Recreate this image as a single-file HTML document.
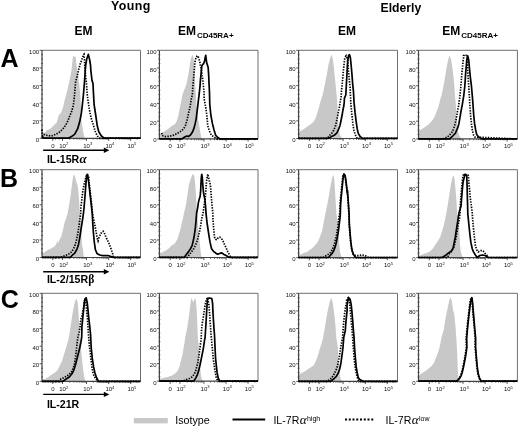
<!DOCTYPE html>
<html><head><meta charset="utf-8"><style>
html,body{margin:0;padding:0;background:#fff;}
body{width:520px;height:428px;overflow:hidden;}
svg{display:block;will-change:transform;filter:blur(0.3px);font-family:"Liberation Sans", sans-serif;}
</style></head><body>
<svg width="520" height="428" viewBox="0 0 520 428">
<rect width="520" height="428" fill="#fff"/>
<path d="M42 138.3 L42 136 L46.2 130.8 L50.4 128.7 L53.6 125.5 L56.7 122.4 L58.8 115 L60.9 112.9 L63 107.7 L64.6 100.3 L66.2 95 L69.3 81.5 L71.4 71 L72.5 60.5 L73 55.8 L74.3 57 L75.6 56.3 L76.7 65.8 L78.2 76.3 L79.5 86.8 L80.3 95 L80.8 104.5 L81.4 120.3 L83 130.8 L84.5 138.3 L84.5 138.3Z" fill="#c8c8c8"/>
<path d="M159.4 138.9 L159.4 135.49 L162.15 132.87 L165.3 130.76 L168.45 128.66 L171.61 126.04 L174.76 124.25 L176.86 121.1 L178.43 115.01 L179.48 109.76 L180.53 104.5 L181.58 99.25 L182.63 94 L186.31 84.66 L188.41 74.16 L189.99 63.66 L191.04 58.4 L192.09 55.25 L192.61 54.73 L193.66 58.4 L194.5 71.01 L194.92 81.51 L195.97 96.1 L196.29 104.5 L197.34 115.01 L198.92 123.41 L199.97 130.76 L201.02 136.02 L201.54 138.9 L201.54 138.9Z" fill="#c8c8c8"/>
<path d="M298.6 138.5 L298.6 132.03 L301.15 130.55 L304.3 128.87 L308.5 125.72 L311.66 123.62 L313.76 121.52 L315.33 118.68 L316.7 115.01 L317.96 110.81 L319.32 106.08 L320.58 101.35 L321.95 96.63 L322.68 94.96 L324.79 84.66 L326.89 74.16 L328.46 64.71 L330.04 58.4 L331.09 55.25 L331.61 54.73 L332.66 58.4 L333.71 65.76 L334.76 76.26 L335.82 86.76 L336.66 94.96 L337.39 104.5 L337.92 115.01 L338.44 125.51 L339.49 132.87 L340.54 136.02 L341.59 137.59 L342.64 138.5 L342.64 138.5Z" fill="#c8c8c8"/>
<path d="M418.5 138.9 L418.5 131.61 L420.1 130.24 L424.3 127.61 L428.5 124.46 L431.66 121.31 L433.76 118.16 L435.33 115.01 L436.91 110.81 L438.48 106.61 L439.53 102.4 L440.58 98.2 L441.63 94.96 L443.74 84.66 L445.52 74.16 L446.89 65.76 L448.25 59.45 L449.3 55.78 L449.72 55.78 L451.09 59.45 L452.14 65.76 L453.19 74.16 L454.24 84.66 L454.97 94.96 L455.82 104.5 L456.34 115.01 L457.08 125.51 L457.92 131.82 L459.18 135.49 L460.54 137.59 L461.59 138.9 L461.59 138.9Z" fill="#c8c8c8"/>
<path d="M42 257.5 L42 253.97 L45.15 251.87 L48.3 249.76 L51.45 248.19 L54.61 246.61 L56.5 243.46 L57.23 240.1 L57.97 243.67 L58.81 241.36 L59.86 239.26 L61.43 236.11 L63.01 229.81 L64.58 222.45 L66.16 218.25 L67.74 213 L69.31 203.66 L70.89 193.16 L71.94 184.76 L72.99 177.4 L73.72 174.78 L74.56 175.3 L75.61 178.45 L76.66 182.66 L77.71 185.81 L78.24 190.01 L78.76 196.31 L79.29 203.66 L79.82 213.96 L80.87 223.5 L81.39 234.01 L81.92 243.46 L82.97 249.76 L83.49 255.02 L84.02 257.5 L84.02 257.5Z" fill="#c8c8c8"/>
<path d="M159.4 257.5 L159.4 253.44 L162.15 252.39 L165.3 250.82 L168.45 248.71 L171.61 245.56 L174.76 243.46 L177.38 239.26 L178.96 234.01 L180.53 228.76 L181.58 223.5 L182.95 218.25 L184 213 L185.79 205.76 L187.36 195.26 L188.94 184.76 L190.51 179.5 L192.09 175.3 L193.14 174.25 L193.87 174.78 L194.71 178.45 L195.24 184.76 L195.76 192.11 L196.29 200.51 L196.82 208.92 L197.34 213.96 L197.87 223.5 L198.92 234.01 L199.97 244.51 L200.81 252.92 L201.54 257.12 L202.07 257.5 L202.07 257.5Z" fill="#c8c8c8"/>
<path d="M298.6 257.6 L298.6 255.02 L301.15 254.49 L304.3 252.39 L306.4 252.39 L308.5 250.82 L311.66 248.71 L314.81 245.56 L317.43 242.41 L319.01 239.26 L320.58 235.06 L322.16 230.86 L323.21 225.61 L324.26 219.3 L325.52 213 L327.41 203.66 L328.99 195.26 L330.56 185.81 L331.82 179.5 L332.98 175.3 L333.5 175.3 L334.24 179.5 L334.76 186.86 L335.29 195.26 L335.82 203.66 L336.34 213.96 L337.92 223.5 L338.44 234.01 L339.18 244.51 L340.02 251.87 L341.07 256.07 L342.12 257.6 L342.12 257.6Z" fill="#c8c8c8"/>
<path d="M418.5 257.6 L418.5 256.07 L422.2 254.49 L426.4 252.92 L429.55 251.87 L432.71 248.71 L434.81 245.56 L436.91 242.41 L439.01 239.26 L440.58 236.11 L442.16 230.86 L443.74 225.61 L445.1 219.3 L446.36 213 L447.94 203.66 L449.51 193.16 L451.09 183.71 L452.14 178.45 L453.19 175.83 L453.71 175.83 L454.55 179.5 L455.29 186.86 L456.03 195.26 L456.66 203.66 L457.08 213.96 L458.97 223.5 L459.49 234.01 L460.02 244.51 L460.86 251.87 L462.12 256.07 L463.17 257.6 L463.17 257.6Z" fill="#c8c8c8"/>
<path d="M42 381.4 L42 379.54 L45.15 379.02 L48.3 376.92 L51.45 374.82 L54.61 372.71 L57.23 370.61 L58.81 367.46 L60.38 364.31 L61.96 361.16 L63.53 355.91 L65.11 350.66 L66.68 345.4 L68.26 340.15 L68.79 337.96 L70.36 327.66 L71.94 317.16 L72.99 310.86 L74.04 305.61 L75.09 301.4 L76.14 298.78 L76.66 298.78 L77.71 302.45 L78.24 308.76 L78.76 317.16 L79.29 327.66 L79.82 337.96 L80.87 347.5 L81.92 358.01 L82.97 368.51 L84.02 375.87 L84.86 380.07 L85.59 381.4 L85.59 381.4Z" fill="#c8c8c8"/>
<path d="M159.4 381.2 L159.4 379.02 L163.2 377.97 L167.4 376.92 L171.61 375.87 L174.76 373.76 L177.91 370.61 L179.48 366.41 L181.06 360.11 L182.63 353.81 L183.68 347.5 L184.74 341.2 L185.26 337 L186.84 329.76 L188.41 320.31 L189.46 311.91 L190.51 303.5 L191.35 297.73 L192.4 300.35 L193.45 302.45 L194.19 300.35 L195.24 297.73 L195.97 301.4 L196.61 308.76 L197.03 317.16 L197.45 327.66 L197.87 337.96 L198.92 347.5 L199.44 358.01 L200.18 368.51 L201.02 375.87 L202.07 380.07 L203.12 381.2 L203.12 381.2Z" fill="#c8c8c8"/>
<path d="M298.6 381.4 L298.6 374.82 L301.15 373.24 L304.3 371.66 L307.45 369.56 L310.61 367.46 L313.76 365.36 L315.86 361.16 L317.43 356.96 L319.01 351.71 L320.58 346.45 L322.16 341.2 L323.21 337 L324.79 327.66 L326.36 318.21 L327.94 309.81 L329.51 302.45 L331.09 297.73 L332.66 302.45 L333.71 309.81 L334.76 318.21 L335.61 327.66 L336.34 337.96 L337.92 347.5 L338.44 358.01 L338.97 368.51 L339.81 375.87 L340.86 379.54 L342.12 380.91 L342.64 381.4 L342.64 381.4Z" fill="#c8c8c8"/>
<path d="M418.5 381.3 L418.5 375.87 L421.15 373.76 L424.3 371.66 L427.45 369.56 L430.61 366.94 L433.76 363.26 L435.86 358.01 L437.96 352.76 L439.53 347.5 L440.58 342.25 L441.63 337 L443.74 329.76 L445.1 321.36 L446.36 314.01 L447.94 306.66 L449.3 300.35 L450.35 297.2 L451.61 300.35 L452.45 305.61 L453.19 310.86 L454.24 314.01 L454.76 319.26 L455.61 327.66 L456.34 337.96 L456.87 347.5 L457.39 358.01 L457.71 368.51 L458.13 375.87 L458.97 379.02 L460.02 380.59 L461.07 381.3 L461.07 381.3Z" fill="#c8c8c8"/>
<path d="M42 50.3 H140.5 V138.3" fill="none" stroke="#6e6e6e" stroke-width="1"/>
<path d="M42 50.3 V138.3 H140.5" fill="none" stroke="#444" stroke-width="1.2"/>
<path d="M39.6 138.3H42M41.1 133.9H42.9M41.1 129.5H42.9M41.1 125.1H42.9M39.6 120.7H42M41.1 116.3H42.9M41.1 111.9H42.9M41.1 107.5H42.9M39.6 103.1H42M41.1 98.7H42.9M41.1 94.3H42.9M41.1 89.9H42.9M39.6 85.5H42M41.1 81.1H42.9M41.1 76.7H42.9M41.1 72.3H42.9M39.6 67.9H42M41.1 63.5H42.9M41.1 59.1H42.9M41.1 54.7H42.9M39.6 50.3H42M52.8 138.3V140.9M62.5 138.3V140.9M86.5 138.3V140.9M108.7 138.3V140.9M130.7 138.3V140.9M69.72 138.3V139.6M73.95 138.3V139.6M76.95 138.3V139.6M79.28 138.3V139.6M81.18 138.3V139.6M82.78 138.3V139.6M84.17 138.3V139.6M85.4 138.3V139.6M93.18 138.3V139.6M97.09 138.3V139.6M99.87 138.3V139.6M102.02 138.3V139.6M103.77 138.3V139.6M105.26 138.3V139.6M106.55 138.3V139.6M107.68 138.3V139.6M115.32 138.3V139.6M119.2 138.3V139.6M121.95 138.3V139.6M124.08 138.3V139.6M125.82 138.3V139.6M127.29 138.3V139.6M128.57 138.3V139.6M129.69 138.3V139.6M137.32 138.3V139.6M55.5 138.3V139.6M59 138.3V139.6" stroke="#444" stroke-width="0.9" fill="none"/>
<text x="39.1" y="141.8" text-anchor="end" font-size="6" fill="#111">0</text>
<text x="39.1" y="124.2" text-anchor="end" font-size="6" fill="#111">20</text>
<text x="39.1" y="106.6" text-anchor="end" font-size="6" fill="#111">40</text>
<text x="39.1" y="89" text-anchor="end" font-size="6" fill="#111">60</text>
<text x="39.1" y="71.4" text-anchor="end" font-size="6" fill="#111">80</text>
<text x="39.1" y="53.8" text-anchor="end" font-size="6" fill="#111">100</text>
<text x="52.8" y="147.55" text-anchor="middle" font-size="6" fill="#111">0</text>
<text x="59.2" y="147.55" font-size="6" fill="#111">10<tspan dy="-2.4" font-size="4.1">2</tspan></text>
<text x="83.2" y="147.55" font-size="6" fill="#111">10<tspan dy="-2.4" font-size="4.1">3</tspan></text>
<text x="105.4" y="147.55" font-size="6" fill="#111">10<tspan dy="-2.4" font-size="4.1">4</tspan></text>
<text x="127.4" y="147.55" font-size="6" fill="#111">10<tspan dy="-2.4" font-size="4.1">5</tspan></text>
<path d="M159.4 50.3 H258 V138.9" fill="none" stroke="#6e6e6e" stroke-width="1"/>
<path d="M159.4 50.3 V138.9 H258" fill="none" stroke="#444" stroke-width="1.2"/>
<path d="M157 138.9H159.4M158.5 134.47H160.3M158.5 130.04H160.3M158.5 125.61H160.3M157 121.18H159.4M158.5 116.75H160.3M158.5 112.32H160.3M158.5 107.89H160.3M157 103.46H159.4M158.5 99.03H160.3M158.5 94.6H160.3M158.5 90.17H160.3M157 85.74H159.4M158.5 81.31H160.3M158.5 76.88H160.3M158.5 72.45H160.3M157 68.02H159.4M158.5 63.59H160.3M158.5 59.16H160.3M158.5 54.73H160.3M157 50.3H159.4M170.2 138.9V141.5M179.9 138.9V141.5M203.9 138.9V141.5M226.1 138.9V141.5M248.1 138.9V141.5M187.12 138.9V140.2M191.35 138.9V140.2M194.35 138.9V140.2M196.68 138.9V140.2M198.58 138.9V140.2M200.18 138.9V140.2M201.57 138.9V140.2M202.8 138.9V140.2M210.58 138.9V140.2M214.49 138.9V140.2M217.27 138.9V140.2M219.42 138.9V140.2M221.17 138.9V140.2M222.66 138.9V140.2M223.95 138.9V140.2M225.08 138.9V140.2M232.72 138.9V140.2M236.6 138.9V140.2M239.35 138.9V140.2M241.48 138.9V140.2M243.22 138.9V140.2M244.69 138.9V140.2M245.97 138.9V140.2M247.09 138.9V140.2M254.72 138.9V140.2M172.9 138.9V140.2M176.4 138.9V140.2" stroke="#444" stroke-width="0.9" fill="none"/>
<text x="156.5" y="142.4" text-anchor="end" font-size="6" fill="#111">0</text>
<text x="156.5" y="124.68" text-anchor="end" font-size="6" fill="#111">20</text>
<text x="156.5" y="106.96" text-anchor="end" font-size="6" fill="#111">40</text>
<text x="156.5" y="89.24" text-anchor="end" font-size="6" fill="#111">60</text>
<text x="156.5" y="71.52" text-anchor="end" font-size="6" fill="#111">80</text>
<text x="156.5" y="53.8" text-anchor="end" font-size="6" fill="#111">100</text>
<text x="170.2" y="148.15" text-anchor="middle" font-size="6" fill="#111">0</text>
<text x="176.6" y="148.15" font-size="6" fill="#111">10<tspan dy="-2.4" font-size="4.1">2</tspan></text>
<text x="200.6" y="148.15" font-size="6" fill="#111">10<tspan dy="-2.4" font-size="4.1">3</tspan></text>
<text x="222.8" y="148.15" font-size="6" fill="#111">10<tspan dy="-2.4" font-size="4.1">4</tspan></text>
<text x="244.8" y="148.15" font-size="6" fill="#111">10<tspan dy="-2.4" font-size="4.1">5</tspan></text>
<path d="M298.6 50.3 H397.5 V138.5" fill="none" stroke="#6e6e6e" stroke-width="1"/>
<path d="M298.6 50.3 V138.5 H397.5" fill="none" stroke="#444" stroke-width="1.2"/>
<path d="M296.2 138.5H298.6M297.7 134.09H299.5M297.7 129.68H299.5M297.7 125.27H299.5M296.2 120.86H298.6M297.7 116.45H299.5M297.7 112.04H299.5M297.7 107.63H299.5M296.2 103.22H298.6M297.7 98.81H299.5M297.7 94.4H299.5M297.7 89.99H299.5M296.2 85.58H298.6M297.7 81.17H299.5M297.7 76.76H299.5M297.7 72.35H299.5M296.2 67.94H298.6M297.7 63.53H299.5M297.7 59.12H299.5M297.7 54.71H299.5M296.2 50.3H298.6M309.4 138.5V141.1M319.1 138.5V141.1M343.1 138.5V141.1M365.3 138.5V141.1M387.3 138.5V141.1M326.32 138.5V139.8M330.55 138.5V139.8M333.55 138.5V139.8M335.88 138.5V139.8M337.78 138.5V139.8M339.38 138.5V139.8M340.77 138.5V139.8M342 138.5V139.8M349.78 138.5V139.8M353.69 138.5V139.8M356.47 138.5V139.8M358.62 138.5V139.8M360.37 138.5V139.8M361.86 138.5V139.8M363.15 138.5V139.8M364.28 138.5V139.8M371.92 138.5V139.8M375.8 138.5V139.8M378.55 138.5V139.8M380.68 138.5V139.8M382.42 138.5V139.8M383.89 138.5V139.8M385.17 138.5V139.8M386.29 138.5V139.8M393.92 138.5V139.8M312.1 138.5V139.8M315.6 138.5V139.8" stroke="#444" stroke-width="0.9" fill="none"/>
<text x="295.7" y="142" text-anchor="end" font-size="6" fill="#111">0</text>
<text x="295.7" y="124.36" text-anchor="end" font-size="6" fill="#111">20</text>
<text x="295.7" y="106.72" text-anchor="end" font-size="6" fill="#111">40</text>
<text x="295.7" y="89.08" text-anchor="end" font-size="6" fill="#111">60</text>
<text x="295.7" y="71.44" text-anchor="end" font-size="6" fill="#111">80</text>
<text x="295.7" y="53.8" text-anchor="end" font-size="6" fill="#111">100</text>
<text x="309.4" y="147.75" text-anchor="middle" font-size="6" fill="#111">0</text>
<text x="315.8" y="147.75" font-size="6" fill="#111">10<tspan dy="-2.4" font-size="4.1">2</tspan></text>
<text x="339.8" y="147.75" font-size="6" fill="#111">10<tspan dy="-2.4" font-size="4.1">3</tspan></text>
<text x="362" y="147.75" font-size="6" fill="#111">10<tspan dy="-2.4" font-size="4.1">4</tspan></text>
<text x="384" y="147.75" font-size="6" fill="#111">10<tspan dy="-2.4" font-size="4.1">5</tspan></text>
<path d="M418.5 50.3 H517.4 V138.9" fill="none" stroke="#6e6e6e" stroke-width="1"/>
<path d="M418.5 50.3 V138.9 H517.4" fill="none" stroke="#444" stroke-width="1.2"/>
<path d="M416.1 138.9H418.5M417.6 134.47H419.4M417.6 130.04H419.4M417.6 125.61H419.4M416.1 121.18H418.5M417.6 116.75H419.4M417.6 112.32H419.4M417.6 107.89H419.4M416.1 103.46H418.5M417.6 99.03H419.4M417.6 94.6H419.4M417.6 90.17H419.4M416.1 85.74H418.5M417.6 81.31H419.4M417.6 76.88H419.4M417.6 72.45H419.4M416.1 68.02H418.5M417.6 63.59H419.4M417.6 59.16H419.4M417.6 54.73H419.4M416.1 50.3H418.5M429.3 138.9V141.5M439 138.9V141.5M463 138.9V141.5M485.2 138.9V141.5M507.2 138.9V141.5M446.22 138.9V140.2M450.45 138.9V140.2M453.45 138.9V140.2M455.78 138.9V140.2M457.68 138.9V140.2M459.28 138.9V140.2M460.67 138.9V140.2M461.9 138.9V140.2M469.68 138.9V140.2M473.59 138.9V140.2M476.37 138.9V140.2M478.52 138.9V140.2M480.27 138.9V140.2M481.76 138.9V140.2M483.05 138.9V140.2M484.18 138.9V140.2M491.82 138.9V140.2M495.7 138.9V140.2M498.45 138.9V140.2M500.58 138.9V140.2M502.32 138.9V140.2M503.79 138.9V140.2M505.07 138.9V140.2M506.19 138.9V140.2M513.82 138.9V140.2M432 138.9V140.2M435.5 138.9V140.2" stroke="#444" stroke-width="0.9" fill="none"/>
<text x="415.6" y="142.4" text-anchor="end" font-size="6" fill="#111">0</text>
<text x="415.6" y="124.68" text-anchor="end" font-size="6" fill="#111">20</text>
<text x="415.6" y="106.96" text-anchor="end" font-size="6" fill="#111">40</text>
<text x="415.6" y="89.24" text-anchor="end" font-size="6" fill="#111">60</text>
<text x="415.6" y="71.52" text-anchor="end" font-size="6" fill="#111">80</text>
<text x="415.6" y="53.8" text-anchor="end" font-size="6" fill="#111">100</text>
<text x="429.3" y="148.15" text-anchor="middle" font-size="6" fill="#111">0</text>
<text x="435.7" y="148.15" font-size="6" fill="#111">10<tspan dy="-2.4" font-size="4.1">2</tspan></text>
<text x="459.7" y="148.15" font-size="6" fill="#111">10<tspan dy="-2.4" font-size="4.1">3</tspan></text>
<text x="481.9" y="148.15" font-size="6" fill="#111">10<tspan dy="-2.4" font-size="4.1">4</tspan></text>
<text x="503.9" y="148.15" font-size="6" fill="#111">10<tspan dy="-2.4" font-size="4.1">5</tspan></text>
<path d="M42 169.7 H140.5 V257.5" fill="none" stroke="#6e6e6e" stroke-width="1"/>
<path d="M42 169.7 V257.5 H140.5" fill="none" stroke="#444" stroke-width="1.2"/>
<path d="M39.6 257.5H42M41.1 253.11H42.9M41.1 248.72H42.9M41.1 244.33H42.9M39.6 239.94H42M41.1 235.55H42.9M41.1 231.16H42.9M41.1 226.77H42.9M39.6 222.38H42M41.1 217.99H42.9M41.1 213.6H42.9M41.1 209.21H42.9M39.6 204.82H42M41.1 200.43H42.9M41.1 196.04H42.9M41.1 191.65H42.9M39.6 187.26H42M41.1 182.87H42.9M41.1 178.48H42.9M41.1 174.09H42.9M39.6 169.7H42M52.8 257.5V260.1M62.5 257.5V260.1M86.5 257.5V260.1M108.7 257.5V260.1M130.7 257.5V260.1M69.72 257.5V258.8M73.95 257.5V258.8M76.95 257.5V258.8M79.28 257.5V258.8M81.18 257.5V258.8M82.78 257.5V258.8M84.17 257.5V258.8M85.4 257.5V258.8M93.18 257.5V258.8M97.09 257.5V258.8M99.87 257.5V258.8M102.02 257.5V258.8M103.77 257.5V258.8M105.26 257.5V258.8M106.55 257.5V258.8M107.68 257.5V258.8M115.32 257.5V258.8M119.2 257.5V258.8M121.95 257.5V258.8M124.08 257.5V258.8M125.82 257.5V258.8M127.29 257.5V258.8M128.57 257.5V258.8M129.69 257.5V258.8M137.32 257.5V258.8M55.5 257.5V258.8M59 257.5V258.8" stroke="#444" stroke-width="0.9" fill="none"/>
<text x="39.1" y="261" text-anchor="end" font-size="6" fill="#111">0</text>
<text x="39.1" y="243.44" text-anchor="end" font-size="6" fill="#111">20</text>
<text x="39.1" y="225.88" text-anchor="end" font-size="6" fill="#111">40</text>
<text x="39.1" y="208.32" text-anchor="end" font-size="6" fill="#111">60</text>
<text x="39.1" y="190.76" text-anchor="end" font-size="6" fill="#111">80</text>
<text x="39.1" y="173.2" text-anchor="end" font-size="6" fill="#111">100</text>
<text x="52.8" y="266.95" text-anchor="middle" font-size="6" fill="#111">0</text>
<text x="59.2" y="266.95" font-size="6" fill="#111">10<tspan dy="-2.4" font-size="4.1">2</tspan></text>
<text x="83.2" y="266.95" font-size="6" fill="#111">10<tspan dy="-2.4" font-size="4.1">3</tspan></text>
<text x="105.4" y="266.95" font-size="6" fill="#111">10<tspan dy="-2.4" font-size="4.1">4</tspan></text>
<text x="127.4" y="266.95" font-size="6" fill="#111">10<tspan dy="-2.4" font-size="4.1">5</tspan></text>
<path d="M159.4 169.7 H258 V257.5" fill="none" stroke="#6e6e6e" stroke-width="1"/>
<path d="M159.4 169.7 V257.5 H258" fill="none" stroke="#444" stroke-width="1.2"/>
<path d="M157 257.5H159.4M158.5 253.11H160.3M158.5 248.72H160.3M158.5 244.33H160.3M157 239.94H159.4M158.5 235.55H160.3M158.5 231.16H160.3M158.5 226.77H160.3M157 222.38H159.4M158.5 217.99H160.3M158.5 213.6H160.3M158.5 209.21H160.3M157 204.82H159.4M158.5 200.43H160.3M158.5 196.04H160.3M158.5 191.65H160.3M157 187.26H159.4M158.5 182.87H160.3M158.5 178.48H160.3M158.5 174.09H160.3M157 169.7H159.4M170.2 257.5V260.1M179.9 257.5V260.1M203.9 257.5V260.1M226.1 257.5V260.1M248.1 257.5V260.1M187.12 257.5V258.8M191.35 257.5V258.8M194.35 257.5V258.8M196.68 257.5V258.8M198.58 257.5V258.8M200.18 257.5V258.8M201.57 257.5V258.8M202.8 257.5V258.8M210.58 257.5V258.8M214.49 257.5V258.8M217.27 257.5V258.8M219.42 257.5V258.8M221.17 257.5V258.8M222.66 257.5V258.8M223.95 257.5V258.8M225.08 257.5V258.8M232.72 257.5V258.8M236.6 257.5V258.8M239.35 257.5V258.8M241.48 257.5V258.8M243.22 257.5V258.8M244.69 257.5V258.8M245.97 257.5V258.8M247.09 257.5V258.8M254.72 257.5V258.8M172.9 257.5V258.8M176.4 257.5V258.8" stroke="#444" stroke-width="0.9" fill="none"/>
<text x="156.5" y="261" text-anchor="end" font-size="6" fill="#111">0</text>
<text x="156.5" y="243.44" text-anchor="end" font-size="6" fill="#111">20</text>
<text x="156.5" y="225.88" text-anchor="end" font-size="6" fill="#111">40</text>
<text x="156.5" y="208.32" text-anchor="end" font-size="6" fill="#111">60</text>
<text x="156.5" y="190.76" text-anchor="end" font-size="6" fill="#111">80</text>
<text x="156.5" y="173.2" text-anchor="end" font-size="6" fill="#111">100</text>
<text x="170.2" y="266.95" text-anchor="middle" font-size="6" fill="#111">0</text>
<text x="176.6" y="266.95" font-size="6" fill="#111">10<tspan dy="-2.4" font-size="4.1">2</tspan></text>
<text x="200.6" y="266.95" font-size="6" fill="#111">10<tspan dy="-2.4" font-size="4.1">3</tspan></text>
<text x="222.8" y="266.95" font-size="6" fill="#111">10<tspan dy="-2.4" font-size="4.1">4</tspan></text>
<text x="244.8" y="266.95" font-size="6" fill="#111">10<tspan dy="-2.4" font-size="4.1">5</tspan></text>
<path d="M298.6 169.7 H397.5 V257.6" fill="none" stroke="#6e6e6e" stroke-width="1"/>
<path d="M298.6 169.7 V257.6 H397.5" fill="none" stroke="#444" stroke-width="1.2"/>
<path d="M296.2 257.6H298.6M297.7 253.21H299.5M297.7 248.81H299.5M297.7 244.42H299.5M296.2 240.02H298.6M297.7 235.62H299.5M297.7 231.23H299.5M297.7 226.84H299.5M296.2 222.44H298.6M297.7 218.05H299.5M297.7 213.65H299.5M297.7 209.25H299.5M296.2 204.86H298.6M297.7 200.47H299.5M297.7 196.07H299.5M297.7 191.68H299.5M296.2 187.28H298.6M297.7 182.88H299.5M297.7 178.49H299.5M297.7 174.09H299.5M296.2 169.7H298.6M309.4 257.6V260.2M319.1 257.6V260.2M343.1 257.6V260.2M365.3 257.6V260.2M387.3 257.6V260.2M326.32 257.6V258.9M330.55 257.6V258.9M333.55 257.6V258.9M335.88 257.6V258.9M337.78 257.6V258.9M339.38 257.6V258.9M340.77 257.6V258.9M342 257.6V258.9M349.78 257.6V258.9M353.69 257.6V258.9M356.47 257.6V258.9M358.62 257.6V258.9M360.37 257.6V258.9M361.86 257.6V258.9M363.15 257.6V258.9M364.28 257.6V258.9M371.92 257.6V258.9M375.8 257.6V258.9M378.55 257.6V258.9M380.68 257.6V258.9M382.42 257.6V258.9M383.89 257.6V258.9M385.17 257.6V258.9M386.29 257.6V258.9M393.92 257.6V258.9M312.1 257.6V258.9M315.6 257.6V258.9" stroke="#444" stroke-width="0.9" fill="none"/>
<text x="295.7" y="261.1" text-anchor="end" font-size="6" fill="#111">0</text>
<text x="295.7" y="243.52" text-anchor="end" font-size="6" fill="#111">20</text>
<text x="295.7" y="225.94" text-anchor="end" font-size="6" fill="#111">40</text>
<text x="295.7" y="208.36" text-anchor="end" font-size="6" fill="#111">60</text>
<text x="295.7" y="190.78" text-anchor="end" font-size="6" fill="#111">80</text>
<text x="295.7" y="173.2" text-anchor="end" font-size="6" fill="#111">100</text>
<text x="309.4" y="267.05" text-anchor="middle" font-size="6" fill="#111">0</text>
<text x="315.8" y="267.05" font-size="6" fill="#111">10<tspan dy="-2.4" font-size="4.1">2</tspan></text>
<text x="339.8" y="267.05" font-size="6" fill="#111">10<tspan dy="-2.4" font-size="4.1">3</tspan></text>
<text x="362" y="267.05" font-size="6" fill="#111">10<tspan dy="-2.4" font-size="4.1">4</tspan></text>
<text x="384" y="267.05" font-size="6" fill="#111">10<tspan dy="-2.4" font-size="4.1">5</tspan></text>
<path d="M418.5 169.7 H517.4 V257.6" fill="none" stroke="#6e6e6e" stroke-width="1"/>
<path d="M418.5 169.7 V257.6 H517.4" fill="none" stroke="#444" stroke-width="1.2"/>
<path d="M416.1 257.6H418.5M417.6 253.21H419.4M417.6 248.81H419.4M417.6 244.42H419.4M416.1 240.02H418.5M417.6 235.62H419.4M417.6 231.23H419.4M417.6 226.84H419.4M416.1 222.44H418.5M417.6 218.05H419.4M417.6 213.65H419.4M417.6 209.25H419.4M416.1 204.86H418.5M417.6 200.47H419.4M417.6 196.07H419.4M417.6 191.68H419.4M416.1 187.28H418.5M417.6 182.88H419.4M417.6 178.49H419.4M417.6 174.09H419.4M416.1 169.7H418.5M429.3 257.6V260.2M439 257.6V260.2M463 257.6V260.2M485.2 257.6V260.2M507.2 257.6V260.2M446.22 257.6V258.9M450.45 257.6V258.9M453.45 257.6V258.9M455.78 257.6V258.9M457.68 257.6V258.9M459.28 257.6V258.9M460.67 257.6V258.9M461.9 257.6V258.9M469.68 257.6V258.9M473.59 257.6V258.9M476.37 257.6V258.9M478.52 257.6V258.9M480.27 257.6V258.9M481.76 257.6V258.9M483.05 257.6V258.9M484.18 257.6V258.9M491.82 257.6V258.9M495.7 257.6V258.9M498.45 257.6V258.9M500.58 257.6V258.9M502.32 257.6V258.9M503.79 257.6V258.9M505.07 257.6V258.9M506.19 257.6V258.9M513.82 257.6V258.9M432 257.6V258.9M435.5 257.6V258.9" stroke="#444" stroke-width="0.9" fill="none"/>
<text x="415.6" y="261.1" text-anchor="end" font-size="6" fill="#111">0</text>
<text x="415.6" y="243.52" text-anchor="end" font-size="6" fill="#111">20</text>
<text x="415.6" y="225.94" text-anchor="end" font-size="6" fill="#111">40</text>
<text x="415.6" y="208.36" text-anchor="end" font-size="6" fill="#111">60</text>
<text x="415.6" y="190.78" text-anchor="end" font-size="6" fill="#111">80</text>
<text x="415.6" y="173.2" text-anchor="end" font-size="6" fill="#111">100</text>
<text x="429.3" y="267.05" text-anchor="middle" font-size="6" fill="#111">0</text>
<text x="435.7" y="267.05" font-size="6" fill="#111">10<tspan dy="-2.4" font-size="4.1">2</tspan></text>
<text x="459.7" y="267.05" font-size="6" fill="#111">10<tspan dy="-2.4" font-size="4.1">3</tspan></text>
<text x="481.9" y="267.05" font-size="6" fill="#111">10<tspan dy="-2.4" font-size="4.1">4</tspan></text>
<text x="503.9" y="267.05" font-size="6" fill="#111">10<tspan dy="-2.4" font-size="4.1">5</tspan></text>
<path d="M42 293.3 H140.5 V381.4" fill="none" stroke="#6e6e6e" stroke-width="1"/>
<path d="M42 293.3 V381.4 H140.5" fill="none" stroke="#444" stroke-width="1.2"/>
<path d="M39.6 381.4H42M41.1 377H42.9M41.1 372.59H42.9M41.1 368.19H42.9M39.6 363.78H42M41.1 359.38H42.9M41.1 354.97H42.9M41.1 350.56H42.9M39.6 346.16H42M41.1 341.75H42.9M41.1 337.35H42.9M41.1 332.94H42.9M39.6 328.54H42M41.1 324.13H42.9M41.1 319.73H42.9M41.1 315.32H42.9M39.6 310.92H42M41.1 306.51H42.9M41.1 302.11H42.9M41.1 297.71H42.9M39.6 293.3H42M52.8 381.4V384M62.5 381.4V384M86.5 381.4V384M108.7 381.4V384M130.7 381.4V384M69.72 381.4V382.7M73.95 381.4V382.7M76.95 381.4V382.7M79.28 381.4V382.7M81.18 381.4V382.7M82.78 381.4V382.7M84.17 381.4V382.7M85.4 381.4V382.7M93.18 381.4V382.7M97.09 381.4V382.7M99.87 381.4V382.7M102.02 381.4V382.7M103.77 381.4V382.7M105.26 381.4V382.7M106.55 381.4V382.7M107.68 381.4V382.7M115.32 381.4V382.7M119.2 381.4V382.7M121.95 381.4V382.7M124.08 381.4V382.7M125.82 381.4V382.7M127.29 381.4V382.7M128.57 381.4V382.7M129.69 381.4V382.7M137.32 381.4V382.7M55.5 381.4V382.7M59 381.4V382.7" stroke="#444" stroke-width="0.9" fill="none"/>
<text x="39.1" y="384.9" text-anchor="end" font-size="6" fill="#111">0</text>
<text x="39.1" y="367.28" text-anchor="end" font-size="6" fill="#111">20</text>
<text x="39.1" y="349.66" text-anchor="end" font-size="6" fill="#111">40</text>
<text x="39.1" y="332.04" text-anchor="end" font-size="6" fill="#111">60</text>
<text x="39.1" y="314.42" text-anchor="end" font-size="6" fill="#111">80</text>
<text x="39.1" y="296.8" text-anchor="end" font-size="6" fill="#111">100</text>
<text x="52.8" y="391.05" text-anchor="middle" font-size="6" fill="#111">0</text>
<text x="59.2" y="391.05" font-size="6" fill="#111">10<tspan dy="-2.4" font-size="4.1">2</tspan></text>
<text x="83.2" y="391.05" font-size="6" fill="#111">10<tspan dy="-2.4" font-size="4.1">3</tspan></text>
<text x="105.4" y="391.05" font-size="6" fill="#111">10<tspan dy="-2.4" font-size="4.1">4</tspan></text>
<text x="127.4" y="391.05" font-size="6" fill="#111">10<tspan dy="-2.4" font-size="4.1">5</tspan></text>
<path d="M159.4 293.3 H258 V381.2" fill="none" stroke="#6e6e6e" stroke-width="1"/>
<path d="M159.4 293.3 V381.2 H258" fill="none" stroke="#444" stroke-width="1.2"/>
<path d="M157 381.2H159.4M158.5 376.81H160.3M158.5 372.41H160.3M158.5 368.01H160.3M157 363.62H159.4M158.5 359.23H160.3M158.5 354.83H160.3M158.5 350.44H160.3M157 346.04H159.4M158.5 341.64H160.3M158.5 337.25H160.3M158.5 332.86H160.3M157 328.46H159.4M158.5 324.06H160.3M158.5 319.67H160.3M158.5 315.27H160.3M157 310.88H159.4M158.5 306.49H160.3M158.5 302.09H160.3M158.5 297.7H160.3M157 293.3H159.4M170.2 381.2V383.8M179.9 381.2V383.8M203.9 381.2V383.8M226.1 381.2V383.8M248.1 381.2V383.8M187.12 381.2V382.5M191.35 381.2V382.5M194.35 381.2V382.5M196.68 381.2V382.5M198.58 381.2V382.5M200.18 381.2V382.5M201.57 381.2V382.5M202.8 381.2V382.5M210.58 381.2V382.5M214.49 381.2V382.5M217.27 381.2V382.5M219.42 381.2V382.5M221.17 381.2V382.5M222.66 381.2V382.5M223.95 381.2V382.5M225.08 381.2V382.5M232.72 381.2V382.5M236.6 381.2V382.5M239.35 381.2V382.5M241.48 381.2V382.5M243.22 381.2V382.5M244.69 381.2V382.5M245.97 381.2V382.5M247.09 381.2V382.5M254.72 381.2V382.5M172.9 381.2V382.5M176.4 381.2V382.5" stroke="#444" stroke-width="0.9" fill="none"/>
<text x="156.5" y="384.7" text-anchor="end" font-size="6" fill="#111">0</text>
<text x="156.5" y="367.12" text-anchor="end" font-size="6" fill="#111">20</text>
<text x="156.5" y="349.54" text-anchor="end" font-size="6" fill="#111">40</text>
<text x="156.5" y="331.96" text-anchor="end" font-size="6" fill="#111">60</text>
<text x="156.5" y="314.38" text-anchor="end" font-size="6" fill="#111">80</text>
<text x="156.5" y="296.8" text-anchor="end" font-size="6" fill="#111">100</text>
<text x="170.2" y="390.85" text-anchor="middle" font-size="6" fill="#111">0</text>
<text x="176.6" y="390.85" font-size="6" fill="#111">10<tspan dy="-2.4" font-size="4.1">2</tspan></text>
<text x="200.6" y="390.85" font-size="6" fill="#111">10<tspan dy="-2.4" font-size="4.1">3</tspan></text>
<text x="222.8" y="390.85" font-size="6" fill="#111">10<tspan dy="-2.4" font-size="4.1">4</tspan></text>
<text x="244.8" y="390.85" font-size="6" fill="#111">10<tspan dy="-2.4" font-size="4.1">5</tspan></text>
<path d="M298.6 293.3 H397.5 V381.4" fill="none" stroke="#6e6e6e" stroke-width="1"/>
<path d="M298.6 293.3 V381.4 H397.5" fill="none" stroke="#444" stroke-width="1.2"/>
<path d="M296.2 381.4H298.6M297.7 377H299.5M297.7 372.59H299.5M297.7 368.19H299.5M296.2 363.78H298.6M297.7 359.38H299.5M297.7 354.97H299.5M297.7 350.56H299.5M296.2 346.16H298.6M297.7 341.75H299.5M297.7 337.35H299.5M297.7 332.94H299.5M296.2 328.54H298.6M297.7 324.13H299.5M297.7 319.73H299.5M297.7 315.32H299.5M296.2 310.92H298.6M297.7 306.51H299.5M297.7 302.11H299.5M297.7 297.71H299.5M296.2 293.3H298.6M309.4 381.4V384M319.1 381.4V384M343.1 381.4V384M365.3 381.4V384M387.3 381.4V384M326.32 381.4V382.7M330.55 381.4V382.7M333.55 381.4V382.7M335.88 381.4V382.7M337.78 381.4V382.7M339.38 381.4V382.7M340.77 381.4V382.7M342 381.4V382.7M349.78 381.4V382.7M353.69 381.4V382.7M356.47 381.4V382.7M358.62 381.4V382.7M360.37 381.4V382.7M361.86 381.4V382.7M363.15 381.4V382.7M364.28 381.4V382.7M371.92 381.4V382.7M375.8 381.4V382.7M378.55 381.4V382.7M380.68 381.4V382.7M382.42 381.4V382.7M383.89 381.4V382.7M385.17 381.4V382.7M386.29 381.4V382.7M393.92 381.4V382.7M312.1 381.4V382.7M315.6 381.4V382.7" stroke="#444" stroke-width="0.9" fill="none"/>
<text x="295.7" y="384.9" text-anchor="end" font-size="6" fill="#111">0</text>
<text x="295.7" y="367.28" text-anchor="end" font-size="6" fill="#111">20</text>
<text x="295.7" y="349.66" text-anchor="end" font-size="6" fill="#111">40</text>
<text x="295.7" y="332.04" text-anchor="end" font-size="6" fill="#111">60</text>
<text x="295.7" y="314.42" text-anchor="end" font-size="6" fill="#111">80</text>
<text x="295.7" y="296.8" text-anchor="end" font-size="6" fill="#111">100</text>
<text x="309.4" y="391.05" text-anchor="middle" font-size="6" fill="#111">0</text>
<text x="315.8" y="391.05" font-size="6" fill="#111">10<tspan dy="-2.4" font-size="4.1">2</tspan></text>
<text x="339.8" y="391.05" font-size="6" fill="#111">10<tspan dy="-2.4" font-size="4.1">3</tspan></text>
<text x="362" y="391.05" font-size="6" fill="#111">10<tspan dy="-2.4" font-size="4.1">4</tspan></text>
<text x="384" y="391.05" font-size="6" fill="#111">10<tspan dy="-2.4" font-size="4.1">5</tspan></text>
<path d="M418.5 293.3 H517.4 V381.3" fill="none" stroke="#6e6e6e" stroke-width="1"/>
<path d="M418.5 293.3 V381.3 H517.4" fill="none" stroke="#444" stroke-width="1.2"/>
<path d="M416.1 381.3H418.5M417.6 376.9H419.4M417.6 372.5H419.4M417.6 368.1H419.4M416.1 363.7H418.5M417.6 359.3H419.4M417.6 354.9H419.4M417.6 350.5H419.4M416.1 346.1H418.5M417.6 341.7H419.4M417.6 337.3H419.4M417.6 332.9H419.4M416.1 328.5H418.5M417.6 324.1H419.4M417.6 319.7H419.4M417.6 315.3H419.4M416.1 310.9H418.5M417.6 306.5H419.4M417.6 302.1H419.4M417.6 297.7H419.4M416.1 293.3H418.5M429.3 381.3V383.9M439 381.3V383.9M463 381.3V383.9M485.2 381.3V383.9M507.2 381.3V383.9M446.22 381.3V382.6M450.45 381.3V382.6M453.45 381.3V382.6M455.78 381.3V382.6M457.68 381.3V382.6M459.28 381.3V382.6M460.67 381.3V382.6M461.9 381.3V382.6M469.68 381.3V382.6M473.59 381.3V382.6M476.37 381.3V382.6M478.52 381.3V382.6M480.27 381.3V382.6M481.76 381.3V382.6M483.05 381.3V382.6M484.18 381.3V382.6M491.82 381.3V382.6M495.7 381.3V382.6M498.45 381.3V382.6M500.58 381.3V382.6M502.32 381.3V382.6M503.79 381.3V382.6M505.07 381.3V382.6M506.19 381.3V382.6M513.82 381.3V382.6M432 381.3V382.6M435.5 381.3V382.6" stroke="#444" stroke-width="0.9" fill="none"/>
<text x="415.6" y="384.8" text-anchor="end" font-size="6" fill="#111">0</text>
<text x="415.6" y="367.2" text-anchor="end" font-size="6" fill="#111">20</text>
<text x="415.6" y="349.6" text-anchor="end" font-size="6" fill="#111">40</text>
<text x="415.6" y="332" text-anchor="end" font-size="6" fill="#111">60</text>
<text x="415.6" y="314.4" text-anchor="end" font-size="6" fill="#111">80</text>
<text x="415.6" y="296.8" text-anchor="end" font-size="6" fill="#111">100</text>
<text x="429.3" y="390.95" text-anchor="middle" font-size="6" fill="#111">0</text>
<text x="435.7" y="390.95" font-size="6" fill="#111">10<tspan dy="-2.4" font-size="4.1">2</tspan></text>
<text x="459.7" y="390.95" font-size="6" fill="#111">10<tspan dy="-2.4" font-size="4.1">3</tspan></text>
<text x="481.9" y="390.95" font-size="6" fill="#111">10<tspan dy="-2.4" font-size="4.1">4</tspan></text>
<text x="503.9" y="390.95" font-size="6" fill="#111">10<tspan dy="-2.4" font-size="4.1">5</tspan></text>
<path d="M42 136.5 L44 138.2 L68.3 138.2 L71.4 136.6 L74.6 134.4 L77.7 128.7 L79.8 121.3 L81.4 112.9 L82.4 104.5 L83.5 94 L84.5 81.5 L85.6 65.8 L86.6 59.5 L88.3 54.4 L89.6 59.5 L90.5 65 L90.9 71 L92 80.5 L93 83.6 L93.4 92 L94.1 104.5 L95.7 115 L97.2 125.5 L98.8 131.8 L101.4 136 L104.1 138.2 L140 138.2 L140.5 138.2" fill="none" stroke="#000" stroke-width="1.7" stroke-linejoin="round"/>
<path d="M42 129.7 L42.5 136 L44.1 134.4 L47.3 135.5 L51.5 136 L55.7 134.4 L59.9 131.8 L64.1 127.6 L67.2 122.4 L69.8 116 L71.9 110.8 L73.5 104.5 L74.6 94 L75.6 81.5 L77.2 76.3 L78.8 68.9 L80.3 63.7 L81.9 59.5 L83.5 54.7 L84 54.2 L84.5 60.5 L85.1 71 L85.7 76.3 L86.7 86.8 L87.3 95 L88.3 102.4 L89.4 109.8 L90.9 117.1 L92.5 122.4 L94.1 127.6 L95.7 132.9 L97.8 136.5 L100 138.2 L140 138.2 L140.5 138.2" fill="none" stroke="#000" stroke-width="1.7" stroke-dasharray="1.4 1.3"/>
<path d="M159.4 138.8 L182.11 138.8 L184.74 137.07 L186.84 136.02 L188.41 136.54 L190.51 134.97 L192.61 131.82 L194.19 127.61 L195.24 123.41 L196.29 118.16 L197.03 111.86 L197.66 106.61 L198.39 100.3 L198.92 96.1 L199.97 86.76 L200.49 79.41 L201.02 74.16 L201.54 68.91 L201.86 65.76 L202.59 64.71 L203.64 63.66 L204.69 60.5 L205.22 57.35 L205.74 55.25 L206.63 62.61 L207.68 65.76 L208.2 67.86 L208.73 76.26 L209.04 83.61 L209.46 92.02 L209.78 104.5 L210.83 115.01 L212.4 123.41 L213.98 129.71 L215.55 134.97 L217.13 137.07 L219.76 138.8 L235.51 138.8 L254 138.8 L258 138.8" fill="none" stroke="#000" stroke-width="1.7" stroke-linejoin="round"/>
<path d="M161.63 132.87 L162.15 135.49 L165.3 136.54 L169.5 136.23 L173.71 135.18 L176.86 133.6 L180.01 131.82 L182.11 130.24 L184.21 127.82 L185.79 124.67 L186.84 120.79 L187.89 116.27 L188.94 111.33 L189.99 107.66 L190.51 104.5 L191.04 100.3 L191.77 97.15 L192.4 94 L192.61 89.92 L193.14 83.61 L193.66 77.31 L194.19 71.01 L194.71 64.71 L195.24 60.5 L195.76 58.4 L196.29 56.83 L197.34 55.78 L198.08 56.3 L198.71 58.4 L199.44 60.5 L199.97 62.61 L200.28 64.71 L201.02 67.86 L201.54 71.01 L202.07 75.21 L202.59 78.36 L203.12 83.61 L203.64 87.82 L203.96 92.02 L204.17 99.25 L205.22 104.5 L206.06 109.76 L206.79 115.01 L207.32 120.26 L207.68 125.51 L209.25 130.76 L211.35 134.97 L213.98 137.07 L216.61 138.8 L254 138.8 L258 138.8" fill="none" stroke="#000" stroke-width="1.7" stroke-dasharray="1.4 1.3"/>
<path d="M298.6 138.4 L323.21 138.4 L328.46 138.4 L331.61 136.54 L334.76 134.97 L336.87 132.87 L338.44 129.71 L340.02 125.51 L341.07 120.26 L342.12 115.01 L342.96 109.76 L343.69 106.61 L344.22 102.4 L344.43 98.2 L345.79 94.96 L346.32 85.71 L346.84 76.26 L347.37 65.76 L347.73 60.5 L348.78 55.25 L349.51 54.73 L350.35 57.35 L351.19 65.76 L351.93 74.16 L352.66 83.61 L353.5 92.02 L354.03 102.4 L355.08 112.91 L356.13 121.31 L357.18 128.66 L358.23 133.39 L359.81 136.02 L362.43 138.4 L393 138.4 L397.5 138.4" fill="none" stroke="#000" stroke-width="1.7" stroke-linejoin="round"/>
<path d="M298.6 138.4 L325.31 138.4 L327.41 138.4 L329.51 135.49 L331.61 133.39 L333.71 130.24 L335.29 126.56 L336.34 122.36 L337.39 117.11 L338.44 111.86 L339.49 106.61 L340.33 101.35 L341.07 97.15 L341.59 89.92 L342.12 84.66 L342.64 79.41 L343.17 73.11 L343.69 67.86 L344.22 62.61 L344.74 58.4 L345.79 56.3 L346.53 55.25 L346.15 54.73 L347.73 60.5 L348.46 71.01 L349.3 79.41 L350.14 87.82 L350.35 94 L350.88 104.5 L351.93 115.01 L352.98 124.46 L354.03 130.76 L355.61 135.49 L357.18 138.4 L393 138.4 L397.5 138.4" fill="none" stroke="#000" stroke-width="1.7" stroke-dasharray="1.4 1.3"/>
<path d="M418.5 138.8 L446.36 138.8 L449.51 138.8 L452.66 136.02 L455.29 133.39 L457.39 128.66 L458.97 123.41 L460.02 117.11 L461.07 110.81 L462.12 105.55 L462.96 100.3 L463.69 96.1 L464.74 86.76 L465.27 79.41 L465.79 71.01 L466.32 65.76 L466.68 60.5 L467.73 55.78 L468.78 60.5 L469.51 68.91 L470.35 77.31 L471.4 85.71 L472.24 94.96 L472.98 104.5 L473.71 115.01 L474.55 123.41 L475.61 129.71 L476.66 134.44 L478.76 137.07 L481.91 138.8 L513 138.8 L517.4 138.8" fill="none" stroke="#000" stroke-width="1.7" stroke-linejoin="round"/>
<path d="M418.5 138.8 L443.21 138.8 L447.41 137.07 L449.51 134.97 L451.61 132.87 L453.71 128.66 L455.29 123.41 L456.34 118.16 L457.39 111.86 L458.44 106.61 L459.18 101.35 L459.81 97.15 L460.54 89.92 L461.07 83.61 L461.59 77.31 L462.12 71.01 L462.64 65.76 L463.17 60.5 L463.69 56.3 L464.22 55.04 L464.05 55.25 L467.2 55.25 L467.41 60.5 L467.73 71.01 L468.25 79.41 L468.78 86.76 L469.3 94.96 L469.83 104.5 L470.56 115.01 L471.4 123.41 L472.45 130.76 L473.5 134.97 L475.08 137.07 L513 138.8 L517.4 138.8" fill="none" stroke="#000" stroke-width="1.7" stroke-dasharray="1.4 1.3"/>
<path d="M42 257.4 L67.21 257.4 L70.36 257.4 L72.46 255.02 L74.56 253.44 L76.66 249.76 L78.24 245.56 L79.29 240.31 L80.34 234.01 L81.08 228.76 L81.92 223.5 L82.76 218.25 L83.49 213 L84.02 207.87 L84.54 201.56 L85.07 195.26 L85.59 187.91 L86.12 181.61 L86.64 176.35 L87.17 174.25 L88.01 177.4 L88.74 182.66 L89.48 188.96 L90.32 196.31 L91.16 203.66 L91.73 208.92 L92.25 213.96 L92.78 223.5 L93.51 234.01 L94.35 242.41 L95.4 249.76 L96.98 253.44 L99.61 255.02 L102.76 255.54 L108.01 255.54 L113.26 257.4 L118.51 257.4 L137 257.4 L140.5 257.4" fill="none" stroke="#000" stroke-width="1.7" stroke-linejoin="round"/>
<path d="M42 257.4 L60.91 257.4 L65.11 255.54 L68.26 254.49 L70.89 252.39 L72.99 249.76 L74.56 246.61 L75.61 243.46 L76.66 239.26 L77.71 234.01 L78.55 228.76 L79.29 223.5 L80.03 218.25 L80.66 214.05 L80.87 207.87 L81.71 200.51 L82.44 194.21 L83.18 188.96 L84.02 184.76 L84.86 181.61 L85.59 178.45 L86.12 176.35 L86.64 174.78 L88.58 175.3 L89.1 182.66 L90.15 192.11 L91.2 200.51 L92.04 208.92 L92.78 215.1 L93.83 220.35 L94.88 225.61 L95.93 230.86 L96.66 235.06 L97.5 239.26 L98.03 240.84 L99.08 237.16 L100.13 235.06 L101.71 231.91 L103.28 231.38 L104.33 232.96 L105.91 237.16 L107.48 240.31 L109.06 243.46 L110.63 247.66 L111.68 250.82 L112.74 253.97 L113.26 257.4 L114.31 257.4 L137 257.4 L140.5 257.4" fill="none" stroke="#000" stroke-width="1.7" stroke-dasharray="1.4 1.3"/>
<path d="M159.4 257.4 L180.01 257.4 L184.21 257.4 L186.31 254.49 L188.41 251.87 L190.51 248.71 L192.09 245.56 L193.14 241.36 L194.19 236.11 L195.24 228.76 L195.97 221.4 L196.61 213 L197.66 207.87 L198.39 202.61 L199.44 198.41 L200.18 196.31 L200.7 190.01 L201.02 182.66 L201.33 177.4 L201.75 174.25 L202.28 177.4 L202.8 184.76 L203.33 191.06 L203.96 195.26 L204.69 198.41 L205.22 202.61 L205.74 208.92 L206.06 213.96 L207.15 223.5 L208.73 234.01 L210.09 242.41 L211.56 248.71 L213.45 251.34 L215.55 252.92 L217.66 254.18 L219.76 253.44 L221.86 252.92 L223.96 254.49 L226.06 255.54 L229.21 257.4 L231.31 257.4 L254 257.4 L258 257.4" fill="none" stroke="#000" stroke-width="1.7" stroke-linejoin="round"/>
<path d="M159.4 257.4 L183.16 257.4 L185.26 257.4 L187.36 257.4 L189.46 254.49 L191.56 251.87 L193.66 248.71 L195.76 244.51 L197.34 240.31 L198.39 236.11 L199.44 231.91 L200.49 226.66 L201.23 221.4 L202.07 217.2 L203.12 213 L203.64 208.92 L204.38 203.66 L205.22 198.41 L205.74 192.11 L206.27 184.76 L206.79 179.5 L207.53 175.3 L208.37 174.25 L207.99 175.3 L209.25 180.55 L210.3 184.76 L210.83 190.01 L211.35 197.36 L211.88 203.66 L212.4 208.92 L212.93 213.96 L212.93 219.3 L213.45 225.61 L213.98 231.91 L214.5 237.16 L215.55 239.26 L217.13 239.79 L218.18 237.68 L219.76 237.16 L221.33 238.21 L222.91 240.84 L224.48 244.51 L226.06 247.66 L227.63 251.34 L228.68 253.44 L229.74 255.54 L230.79 257.4 L254 257.4 L258 257.4" fill="none" stroke="#000" stroke-width="1.7" stroke-dasharray="1.4 1.3"/>
<path d="M298.6 257.5 L324.26 257.5 L328.46 257.5 L331.61 253.97 L333.71 250.82 L335.29 246.61 L336.34 242.41 L337.39 237.16 L338.44 230.86 L339.18 224.55 L339.81 219.3 L340.23 216.15 L340.54 205.76 L341.07 198.41 L341.91 190.01 L342.43 184.76 L342.96 179.5 L343.48 175.3 L344.22 174.25 L345.06 175.3 L345.79 179.5 L346.53 185.81 L347.37 193.16 L347.41 190.01 L348.04 198.41 L348.57 205.76 L349.09 213.96 L349.3 223.5 L350.14 234.01 L350.88 242.41 L351.93 249.76 L353.5 254.49 L355.61 257.5 L393 257.5 L397.5 257.5" fill="none" stroke="#000" stroke-width="1.7" stroke-linejoin="round"/>
<path d="M298.6 257.5 L319.01 257.5 L323.21 257.5 L326.36 255.54 L328.99 253.97 L331.09 251.87 L332.66 248.71 L334.24 244.51 L335.29 240.31 L336.34 236.11 L337.08 231.91 L337.92 226.66 L338.44 221.4 L339.18 216.15 L339.81 213 L340.02 205.76 L340.54 198.41 L341.38 190.01 L341.91 184.76 L342.43 179.5 L342.96 175.3 L343.69 174.25 L344.74 175.3 L345.48 179.5 L346.32 185.81 L347.16 193.16 L347.2 190.01 L347.83 198.41 L348.36 205.76 L348.88 213.96 L349.09 223.5 L349.93 234.01 L350.67 242.41 L351.72 249.76 L353.29 254.49 L355.61 255.54 L358.76 255.54 L361.91 255.02 L365.06 255.54 L368.21 257.5 L393 257.5 L397.5 257.5" fill="none" stroke="#000" stroke-width="1.7" stroke-dasharray="1.4 1.3"/>
<path d="M418.5 257.5 L442.16 257.5 L445.31 255.54 L447.94 253.44 L450.04 251.87 L451.61 250.82 L453.19 247.66 L454.24 242.41 L455.29 237.16 L456.03 231.91 L456.87 226.66 L457.71 221.4 L458.44 216.15 L458.97 213 L461.07 205.76 L461.59 198.41 L462.12 192.11 L462.64 185.81 L463.17 181.61 L463.69 179.5 L464.22 177.4 L464.74 174.78 L465.1 174.25 L466.68 175.3 L466.99 182.66 L467.2 190.01 L467.41 198.41 L467.62 205.76 L467.83 213.96 L468.78 223.5 L469.83 234.01 L470.88 242.41 L472.24 248.71 L473.5 251.87 L475.08 254.49 L477.18 257.5 L479.81 255.54 L482.43 255.02 L485.06 255.54 L488.21 257.5 L513 257.5 L517.4 257.5" fill="none" stroke="#000" stroke-width="1.7" stroke-linejoin="round"/>
<path d="M418.5 257.5 L444.26 257.5 L447.41 257.5 L449.51 253.44 L451.61 251.34 L453.71 247.66 L455.29 241.36 L456.34 236.11 L457.39 229.81 L458.44 223.5 L459.49 218.25 L460.02 213 L460.54 201.56 L461.07 195.26 L461.59 188.96 L462.12 183.71 L462.64 178.45 L463.38 174.78 L464.74 174.25 L466.32 175.3 L468.25 175.3 L468.78 181.61 L469.3 186.86 L469.83 192.11 L470.35 198.41 L471.19 204.71 L471.93 211.02 L472.24 213 L472.66 219.3 L473.29 226.66 L474.03 234.01 L474.76 240.31 L475.39 245.56 L476.66 249.76 L478.23 251.87 L480.33 250.82 L481.91 250.29 L483.48 251.34 L485.06 253.44 L486.63 255.02 L488.21 257.5 L490.31 257.5 L513 257.5 L517.4 257.5" fill="none" stroke="#000" stroke-width="1.7" stroke-dasharray="1.4 1.3"/>
<path d="M42 381.3 L59.86 381.3 L63.01 381.3 L66.16 379.02 L69.31 376.92 L71.94 373.76 L74.04 369.56 L75.61 364.31 L77.19 358.01 L78.55 352.76 L79.82 347.5 L80.87 342.25 L81.71 337 L81.92 326.61 L82.44 321.36 L82.97 316.11 L83.49 310.86 L84.02 305.61 L84.54 301.4 L85.07 298.78 L86.12 297.73 L87.17 302.45 L88.01 309.81 L88.74 318.21 L89.79 326.61 L90.63 335.02 L90.68 337 L91.2 347.5 L92.25 358.01 L93.51 366.41 L94.88 372.71 L96.45 377.44 L98.55 381.3 L101.71 381.3 L137 381.3 L140.5 381.3" fill="none" stroke="#000" stroke-width="1.7" stroke-linejoin="round"/>
<path d="M42 381.3 L58.81 381.3 L60.91 379.02 L63.01 377.97 L66.16 376.39 L69.31 374.29 L71.94 371.14 L73.51 367.46 L74.56 363.26 L75.4 358.01 L76.14 352.76 L76.66 347.5 L77.19 342.25 L77.71 338.05 L78.24 336.07 L79.29 331.87 L80.03 326.61 L80.66 321.36 L81.08 318.21 L81.92 316.11 L82.76 311.91 L83.49 307.71 L84.02 303.5 L84.54 300.35 L85.07 298.78 L86.12 305.61 L86.96 314.01 L87.69 322.41 L88.22 330.82 L88.74 337.96 L89.31 345.4 L90.36 353.81 L91.41 363.26 L92.46 370.61 L93.93 375.87 L95.93 379.02 L98.03 381.3 L137 381.3 L140.5 381.3" fill="none" stroke="#000" stroke-width="1.7" stroke-dasharray="1.4 1.3"/>
<path d="M159.4 381.1 L186.31 381.1 L190.51 381.1 L193.66 381.1 L195.76 377.97 L197.34 374.82 L198.71 370.61 L199.97 365.36 L201.02 360.11 L202.07 354.86 L203.12 349.61 L203.96 344.35 L204.69 339.1 L205.05 337.96 L205.58 329.76 L206.1 321.36 L206.63 311.91 L207.15 303.5 L207.68 298.25 L209.25 298.04 L210.83 298.25 L211.88 298.78 L212.61 303.5 L212.93 311.91 L213.45 320.31 L213.98 328.71 L214.5 335.02 L215.03 347.5 L215.55 358.01 L216.39 366.41 L217.13 372.71 L218.18 377.97 L219.76 381.1 L222.91 381.1 L254 381.1 L258 381.1" fill="none" stroke="#000" stroke-width="1.7" stroke-linejoin="round"/>
<path d="M159.4 381.1 L183.16 381.1 L186.31 379.54 L189.46 378.49 L192.09 376.92 L194.19 374.29 L195.76 370.61 L196.82 366.41 L197.87 362.21 L198.71 356.96 L199.44 351.71 L200.18 346.45 L200.81 341.2 L201.23 338.05 L201.54 329.76 L202.28 323.46 L203.12 318.21 L203.96 312.96 L204.69 307.71 L205.43 303.5 L206.27 299.83 L207.32 298.25 L207.15 297.73 L208.73 303.5 L209.25 308.76 L209.78 316.11 L210.3 324.51 L210.83 331.87 L211.35 337.96 L211.88 343.3 L212.61 351.71 L213.45 360.11 L214.5 367.46 L215.34 372.71 L216.08 376.92 L217.13 379.54 L218.71 381.1 L254 381.1 L258 381.1" fill="none" stroke="#000" stroke-width="1.7" stroke-dasharray="1.4 1.3"/>
<path d="M298.6 381.3 L327.41 381.3 L330.56 381.3 L333.71 379.02 L336.34 376.39 L338.44 372.71 L339.81 368.51 L340.86 363.26 L341.59 358.01 L342.33 352.76 L342.96 347.5 L343.38 342.25 L343.8 337 L345.27 330.82 L345.79 323.46 L346.53 316.11 L347.16 309.81 L346.99 305.61 L348.04 299.3 L348.78 297.73 L350.14 299.3 L351.19 304.55 L351.93 311.91 L352.66 320.31 L353.29 328.71 L353.82 335.02 L354.03 337 L354.55 347.5 L355.39 358.01 L356.13 366.41 L357.18 372.71 L358.23 377.44 L359.81 379.54 L362.96 381.3 L393 381.3 L397.5 381.3" fill="none" stroke="#000" stroke-width="1.7" stroke-linejoin="round"/>
<path d="M298.6 381.3 L327.41 381.3 L329.51 379.54 L331.61 377.97 L333.71 374.82 L335.82 370.61 L337.39 366.41 L338.44 361.16 L339.49 355.91 L340.23 350.66 L341.07 345.4 L341.91 341.2 L342.64 337 L343.38 325.56 L344.01 319.26 L344.74 312.96 L345.48 307.71 L346.32 303.5 L347.16 300.35 L346.15 301.4 L347.2 298.78 L348.25 297.73 L349.51 301.4 L350.14 308.76 L350.88 317.16 L351.61 324.51 L352.24 331.87 L352.66 337.96 L353.19 345.4 L353.82 353.81 L354.55 362.21 L355.39 368.51 L356.45 374.29 L357.71 378.49 L358.76 381.3 L360.86 381.3 L393 381.3 L397.5 381.3" fill="none" stroke="#000" stroke-width="1.7" stroke-dasharray="1.4 1.3"/>
<path d="M418.5 381.2 L453.71 381.2 L456.87 381.2 L459.49 378.49 L461.07 375.87 L462.12 372.71 L463.17 368.51 L464.22 363.26 L465.27 358.01 L466.11 352.76 L466.84 347.5 L466.68 337.96 L467.41 329.76 L468.25 321.36 L469.09 314.01 L469.83 307.71 L470.56 302.45 L471.4 298.25 L471.93 297.73 L472.66 303.5 L473.29 311.91 L474.03 320.31 L474.76 328.71 L475.61 337.96 L475.61 347.5 L476.45 358.01 L477.18 366.41 L478.23 373.76 L479.6 378.49 L481.38 381.2 L485.06 381.2 L513 381.2 L517.4 381.2" fill="none" stroke="#000" stroke-width="1.7" stroke-linejoin="round"/>
<path d="M418.5 381.2 L453.19 381.2 L456.34 381.2 L458.97 378.49 L460.54 375.87 L461.59 372.71 L462.64 368.51 L463.69 363.26 L464.74 358.01 L465.58 352.76 L466.32 347.5 L466.15 337.96 L466.89 329.76 L467.73 321.36 L468.57 314.01 L469.3 307.71 L470.04 302.45 L470.88 298.25 L471.61 297.73 L472.24 303.5 L472.87 311.91 L473.61 320.31 L474.34 328.71 L475.18 337.96 L475.18 347.5 L476.03 358.01 L476.76 366.41 L477.81 373.76 L479.18 378.49 L481.07 381.2 L485.06 381.2 L513 381.2 L517.4 381.2" fill="none" stroke="#000" stroke-width="1.7" stroke-dasharray="1.4 1.3"/>
<path d="M43.2 150.3H104" stroke="#000" stroke-width="1.4"/>
<path d="M103.8 147.6 L109.4 150.3 L103.8 153 Z" fill="#000"/>
<text x="46.9" y="162.7" font-size="10.6" font-weight="bold" fill="#000">IL-15R<tspan font-family="Liberation Serif" font-style="italic" font-size="13" dx="0.3">&#945;</tspan></text>
<path d="M43.2 271.8H104" stroke="#000" stroke-width="1.4"/>
<path d="M103.8 269.1 L109.4 271.8 L103.8 274.5 Z" fill="#000"/>
<text x="46.9" y="283.1" font-size="10.6" font-weight="bold" fill="#000">IL-2/15R<tspan font-family="Liberation Serif" font-size="11.6" dx="0.2">&#946;</tspan></text>
<path d="M43.2 394.4H104" stroke="#000" stroke-width="1.4"/>
<path d="M103.8 391.7 L109.4 394.4 L103.8 397.1 Z" fill="#000"/>
<text x="46.9" y="407.9" font-size="10.6" font-weight="bold" fill="#000">IL-21R</text>
<text x="111" y="9.95" font-size="12.4" font-weight="bold" letter-spacing="0.45">Young</text>
<text x="380.6" y="11.5" font-size="12.2" font-weight="bold">Elderly</text>
<text x="74.5" y="34.6" font-size="12" font-weight="bold">EM</text>
<text x="338.1" y="34.6" font-size="12" font-weight="bold">EM</text>
<text x="178" y="34.6" font-size="12" font-weight="bold">EM<tspan font-size="8" dy="3" dx="0.9">CD45RA+</tspan></text>
<text x="442.3" y="34.6" font-size="12" font-weight="bold">EM<tspan font-size="8" dy="3" dx="0.9">CD45RA+</tspan></text>
<text x="0.5" y="67" font-size="25" font-weight="bold">A</text>
<text x="0" y="186.8" font-size="25" font-weight="bold">B</text>
<text x="0.8" y="308" font-size="25" font-weight="bold">C</text>
<rect x="133.8" y="418" width="34" height="5.4" fill="#c8c8c8"/>
<text x="175.3" y="423.8" font-size="10.7" fill="#000">Isotype</text>
<path d="M232.5 419.5H265.2" stroke="#000" stroke-width="1.8"/>
<text x="273.4" y="423.8" font-size="10.6" fill="#000">IL-7R<tspan font-family="Liberation Serif" font-style="italic" font-size="13.2" dx="0.4">&#945;</tspan><tspan font-size="7" dy="-3.2" dx="0.3">high</tspan></text>
<path d="M345 419.5H374.5" stroke="#000" stroke-width="2" stroke-dasharray="2 1.75"/>
<text x="385.5" y="423.8" font-size="10.6" fill="#000">IL-7R<tspan font-family="Liberation Serif" font-style="italic" font-size="13.2" dx="0.4">&#945;</tspan><tspan font-size="7" dy="-3.2" dx="0.3">low</tspan></text>
</svg>
</body></html>
